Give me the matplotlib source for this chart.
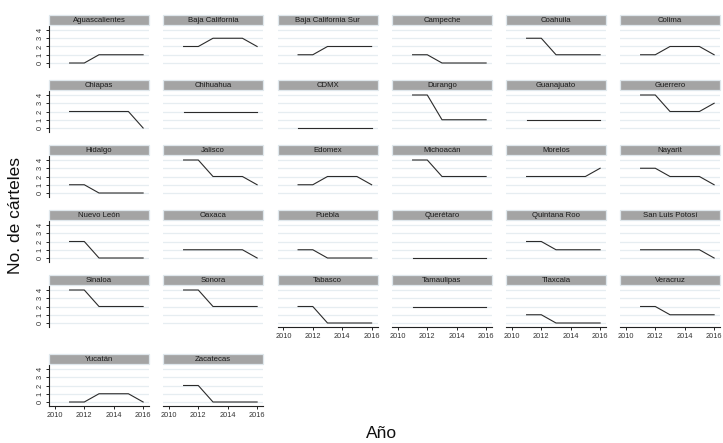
import matplotlib
matplotlib.use("Agg")
import matplotlib.pyplot as plt
from matplotlib.patches import Rectangle

plt.rcParams['font.family'] = ['Liberation Sans', 'DejaVu Sans']

anios = [2011, 2012, 2013, 2014, 2015, 2016]
estados = [
    "Aguascalientes", "Baja California", "Baja California Sur", "Campeche", "Coahuila", "Colima",
    "Chiapas", "Chihuahua", "CDMX", "Durango", "Guanajuato", "Guerrero",
    "Hidalgo", "Jalisco", "Edomex", "Michoacán", "Morelos", "Nayarit",
    "Nuevo León", "Oaxaca", "Puebla", "Querétaro", "Quintana Roo", "San Luis Potosí",
    "Sinaloa", "Sonora", "Tabasco", "Tamaulipas", "Tlaxcala", "Veracruz",
    "Yucatán", "Zacatecas",
]
carteles = [
    [0, 0, 1, 1, 1, 1], [2, 2, 3, 3, 3, 2], [1, 1, 2, 2, 2, 2], [1, 1, 0, 0, 0, 0], [3, 3, 1, 1, 1, 1], [1, 1, 2, 2, 2, 1],
    [2, 2, 2, 2, 2, 0], [2, 2, 2, 2, 2, 2], [0, 0, 0, 0, 0, 0], [4, 4, 1, 1, 1, 1], [1, 1, 1, 1, 1, 1], [4, 4, 2, 2, 2, 3],
    [1, 1, 0, 0, 0, 0], [4, 4, 2, 2, 2, 1], [1, 1, 2, 2, 2, 1], [4, 4, 2, 2, 2, 2], [2, 2, 2, 2, 2, 3], [3, 3, 2, 2, 2, 1],
    [2, 2, 0, 0, 0, 0], [1, 1, 1, 1, 1, 0], [1, 1, 0, 0, 0, 0], [0, 0, 0, 0, 0, 0], [2, 2, 1, 1, 1, 1], [1, 1, 1, 1, 1, 0],
    [4, 4, 2, 2, 2, 2], [4, 4, 2, 2, 2, 2], [2, 2, 0, 0, 0, 0], [2, 2, 2, 2, 2, 2], [1, 1, 0, 0, 0, 0], [2, 2, 1, 1, 1, 1],
    [0, 0, 1, 1, 1, 0], [2, 2, 0, 0, 0, 0],
]
x_ticks = [2010, 2012, 2014, 2016]
y_ticks = [0, 1, 2, 3, 4]

W, H = 723, 443
fig = plt.figure(figsize=(W / 100, H / 100), dpi=100)

ncol = 6
col_left = [49, 163, 277.5, 392, 506, 620]
panel_w = 100
row_zero = [63, 128, 193, 258, 323, 402]   # pixel row of y = 0 in each facet row
px_unit = 8.25
ymin, ymax = -0.5, 4.45
xmin, xmax = 2009.6, 2016.4

grid_col = "#e6edf1"
strip_fill = "#a4a4a4"
strip_edge = "#dfe7ec"

for i, (estado, vals) in enumerate(zip(estados, carteles)):
    r, c = divmod(i, ncol)
    top = row_zero[r] - ymax * px_unit
    height = (ymax - ymin) * px_unit
    left = col_left[c]
    ax = fig.add_axes([left / W, 1 - (top + height) / H, panel_w / W, height / H])
    ax.set_xlim(xmin, xmax)
    ax.set_ylim(ymin, ymax)
    for y in y_ticks:
        ax.axhline(y, color=grid_col, lw=0.9, zorder=0)
    ax.plot(anios, vals, color="#2b2b2b", lw=0.8, zorder=2)

    for s in ax.spines.values():
        s.set_visible(False)

    if c == 0:
        ax.spines['left'].set_visible(True)
        ax.spines['left'].set_color("#222222")
        ax.spines['left'].set_linewidth(0.8)
        ax.set_yticks(y_ticks)
        ax.set_yticklabels([str(v) for v in y_ticks], rotation=90, va='center',
                           fontsize=5.3, color="#333333")
        ax.tick_params(axis='y', length=2.5, width=0.7, pad=1.5, color="#222222")
    else:
        ax.set_yticks([])

    if i + ncol >= len(estados):
        ax.spines['bottom'].set_visible(True)
        ax.spines['bottom'].set_color("#222222")
        ax.spines['bottom'].set_linewidth(0.8)
        ax.set_xticks(x_ticks)
        ax.set_xticklabels([str(v) for v in x_ticks], fontsize=5.3, color="#333333")
        ax.tick_params(axis='x', length=2.5, width=0.7, pad=1.5, color="#222222")
    else:
        ax.set_xticks([])

    # strip with the state name
    strip_h = 10
    sax = fig.add_axes([left / W, 1 - (top - 1) / H, panel_w / W, strip_h / H])
    sax.set_xlim(0, 1)
    sax.set_ylim(0, 1)
    sax.axis('off')
    sax.add_patch(Rectangle((0, 0), 1, 1, facecolor=strip_fill, edgecolor=strip_edge,
                            lw=0.9, transform=sax.transAxes, clip_on=False))
    sax.text(0.5, 0.5, estado, ha='center', va='center', fontsize=5.6, color="#1a1a1a")

fig.text(16 / W, 1 - 215 / H, "No. de cárteles", rotation=90, ha='center', va='center',
         fontsize=12.5, color="#111111")
fig.text(382 / W, 1 - 434 / H, "Año", ha='center', va='center', fontsize=12.5, color="#111111")

fig.savefig("out.png", dpi=100, facecolor="white")
